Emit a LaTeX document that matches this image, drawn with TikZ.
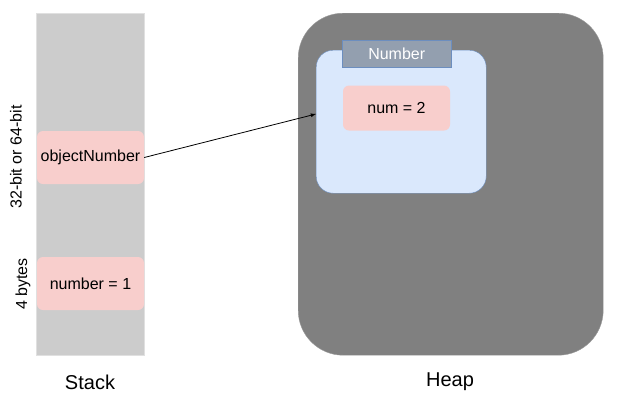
\documentclass[tikz,border=0pt]{standalone}
\usepackage{fontspec}
\setmainfont{Liberation Sans}
\begin{document}
\begin{tikzpicture}[x=1pt,y=-1pt,
  pinkbox/.style={fill=pinkfill,draw=none,rounded corners=6pt,inner sep=0pt,font=\fontsize{16}{18}\selectfont},
  lbl/.style={font=\fontsize{16}{18}\selectfont,inner sep=0pt},
  biglbl/.style={font=\fontsize{20}{22}\selectfont,inner sep=0pt}]
\definecolor{pinkfill}{HTML}{F8CECC}
\definecolor{stackfill}{HTML}{CCCCCC}
\definecolor{heapfill}{HTML}{808080}
\definecolor{bluefill}{HTML}{DAE8FC}
\definecolor{blueline}{HTML}{6C8EBF}
\definecolor{headfill}{HTML}{939FAF}
\useasboundingbox (0,0) rectangle (617,400);
\fill[white] (0,0) rectangle (617,400);
% stack
\node[draw=white!88!black,fill=stackfill,minimum width=108pt,minimum height=342pt,inner sep=0pt,anchor=north west] (stack) at (36,13) {};
\node[pinkbox,minimum width=107pt,minimum height=53pt] (obj) at (90.5,157.5) {objectNumber};
\node[pinkbox,minimum width=107pt,minimum height=53pt] (n1) at (90.5,283.5) {number = 1};
\node[lbl,rotate=90] (l32) at (16,157) {32-bit or 64-bit};
\node[lbl,rotate=90] (l4) at (23,284) {4 bytes};
\node[biglbl] (stacklbl) at (90,382) {Stack};
% heap
\node[draw=heapfill!80!white,fill=heapfill,rounded corners=45pt,minimum width=305pt,minimum height=342pt,inner sep=0pt,anchor=north west] (heap) at (298,13) {};
\node[biglbl] (heaplbl) at (450,382) {Heap};
\node[draw=blueline,fill=bluefill,rounded corners=17pt,minimum width=170pt,minimum height=143pt,inner sep=0pt,anchor=north west] (cont) at (316,50) {};
\node[draw=blueline,fill=headfill,minimum width=109pt,minimum height=27pt,inner sep=0pt,anchor=north west,text=white,font=\fontsize{16}{18}\selectfont] (head) at (342,40) {Number};
\node[pinkbox,minimum width=107pt,minimum height=45pt] (n2) at (396.5,108) {num = 2};
% arrow
\coordinate (tip) at (316,114);
\draw[-latex,line width=0.8pt] (obj.east) -- (tip);
\end{tikzpicture}
\end{document}
